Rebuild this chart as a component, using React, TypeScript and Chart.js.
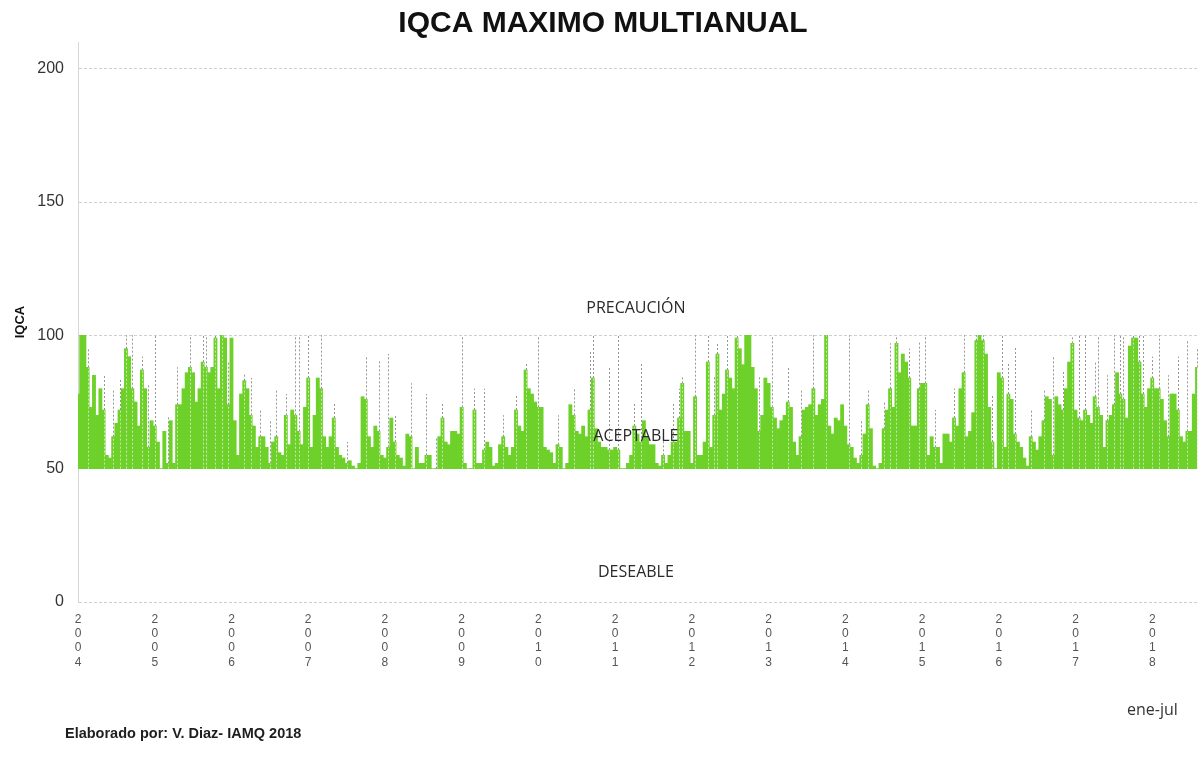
import { useEffect, useRef } from 'react';
import { Chart, registerables } from 'chart.js';

Chart.register(...registerables);

const TITLE = 'IQCA MAXIMO MULTIANUAL';
const Y_TITLE = 'IQCA';
const CREDIT = 'Elaborado por: V. Diaz- IAMQ 2018';
const PERIOD_NOTE = 'ene-jul';

const YEARS = ['2004', '2005', '2006', '2007', '2008', '2009', '2010', '2011', '2012', '2013', '2014', '2015', '2016', '2017', '2018'];
const Y_TICKS = [0, 50, 100, 150, 200];
const BASE = 50;

// half-monthly maximum IQCA (green bars start at 50)
const IQCA_2004 = [78, 100, 100, 88, 73, 85, 70, 80, 72, 55, 54, 62, 67, 72, 80, 95, 92, 80, 75, 66, 87, 80, 58, 68];
const IQCA_2005 = [66, 60, 50, 64, 52, 68, 52, 74, 74, 80, 86, 88, 86, 75, 80, 90, 88, 86, 88, 99, 80, 100, 99, 74];
const IQCA_2006 = [99, 68, 55, 78, 83, 80, 70, 66, 58, 62, 62, 58, 52, 60, 62, 56, 55, 70, 59, 72, 70, 64, 59, 73];
const IQCA_2007 = [84, 58, 70, 84, 80, 62, 58, 62, 69, 58, 55, 54, 52, 53, 51, 50, 52, 77, 76, 62, 58, 66, 64, 55];
const IQCA_2008 = [54, 58, 69, 60, 55, 54, 51, 63, 62, 50, 58, 52, 52, 55, 55, 50, 50, 62, 69, 60, 59, 64, 64, 63];
const IQCA_2009 = [73, 52, 50, 50, 72, 52, 52, 57, 60, 58, 51, 52, 59, 62, 58, 55, 58, 72, 66, 64, 87, 80, 78, 75];
const IQCA_2010 = [73, 73, 58, 57, 56, 52, 59, 58, 50, 52, 74, 70, 64, 63, 66, 62, 72, 84, 65, 60, 58, 58, 57, 57];
const IQCA_2011 = [58, 57, 50, 50, 52, 55, 66, 63, 60, 68, 62, 59, 59, 52, 51, 55, 52, 55, 60, 60, 69, 82, 64, 64];
const IQCA_2012 = [52, 77, 55, 55, 60, 90, 58, 70, 93, 72, 78, 87, 84, 80, 99, 95, 89, 100, 100, 88, 80, 64, 70, 84];
const IQCA_2013 = [82, 73, 69, 65, 68, 70, 75, 73, 60, 55, 62, 72, 73, 74, 80, 70, 74, 76, 100, 66, 63, 69, 68, 74];
const IQCA_2014 = [66, 59, 58, 54, 52, 55, 63, 74, 65, 51, 50, 52, 65, 72, 80, 73, 97, 86, 93, 90, 84, 66, 66, 80];
const IQCA_2015 = [82, 82, 55, 62, 58, 58, 52, 63, 63, 60, 69, 66, 80, 86, 62, 64, 71, 98, 100, 98, 93, 73, 60, 50];
const IQCA_2016 = [86, 84, 58, 78, 76, 63, 60, 58, 54, 51, 62, 60, 57, 62, 68, 77, 76, 55, 77, 74, 72, 80, 90, 97];
const IQCA_2017 = [72, 69, 68, 72, 70, 67, 77, 73, 70, 58, 68, 70, 74, 86, 78, 76, 69, 96, 99, 99, 90, 78, 73, 80];
const IQCA_2018 = [84, 80, 80, 76, 68, 62, 78, 78, 72, 62, 60, 64, 64, 78, 88];

const SERIES_BY_YEAR = [IQCA_2004, IQCA_2005, IQCA_2006, IQCA_2007, IQCA_2008, IQCA_2009, IQCA_2010, IQCA_2011, IQCA_2012, IQCA_2013, IQCA_2014, IQCA_2015, IQCA_2016, IQCA_2017, IQCA_2018];

// dashed drop lines reaching higher daily peaks (period index, peak value)
const SPIKE_INDEX = [3, 8, 11, 13, 15, 17, 20, 22, 24, 28, 31, 35, 39, 40, 43, 45, 47, 52, 54, 57, 60, 62, 65, 68, 69, 72, 76, 80, 84, 90, 94, 97, 99, 104, 109, 112, 114, 120, 124, 127, 133, 137, 140, 144, 150, 155, 160, 161, 166, 169, 174, 176, 183, 186, 188, 189, 193, 197, 199, 200, 203, 206, 213, 217, 222, 226, 230, 234, 241, 245, 247, 252, 254, 256, 260, 263, 265, 268, 274, 277, 281, 283, 286, 289, 291, 293, 298, 302, 305, 308, 311, 313, 315, 318, 319, 322, 324, 326, 327, 330, 332, 333, 336, 338, 341, 344, 347, 350];
const SPIKE_VALUE = [95, 85, 80, 84, 100, 100, 92, 82, 100, 70, 88, 100, 100, 100, 100, 100, 90, 86, 84, 72, 68, 80, 78, 100, 100, 100, 100, 75, 60, 92, 91, 93, 70, 82, 78, 62, 75, 100, 80, 80, 70, 78, 90, 100, 70, 80, 94, 100, 88, 100, 75, 90, 65, 75, 80, 85, 100, 100, 85, 97, 100, 100, 85, 100, 88, 80, 100, 100, 100, 68, 80, 75, 97, 100, 95, 98, 100, 72, 80, 100, 100, 100, 78, 100, 90, 96, 72, 80, 92, 87, 100, 100, 100, 90, 100, 85, 100, 100, 100, 100, 100, 100, 92, 100, 85, 92, 98, 95];

const ZONE_LABELS = ['PRECAUCIÓN', 'ACEPTABLE', 'DESEABLE'];
const ZONE_VALUES = [110, 62, 11];
const ZONE_CATEGORY_INDEX = 174.5;

const categories = YEARS.flatMap((y, k) => SERIES_BY_YEAR[k].map((_, j) => `${y}-${j + 1}`));
const values = SERIES_BY_YEAR.flat();
const PERIODS_PER_YEAR = IQCA_2004.length;

export default function App() {
  const ref = useRef<HTMLCanvasElement | null>(null);

  useEffect(() => {
    document.body.style.margin = '0';
    const canvas = ref.current;
    if (!canvas) return;

    const overlay = {
      id: 'overlay',
      afterDatasetsDraw(chart: any) {
        const { ctx, scales } = chart;
        const xs = scales.x;
        const ys = scales.y;
        ctx.save();
        ctx.lineWidth = 1;
        ctx.setLineDash([2, 2]);
        const yBase = ys.getPixelForValue(BASE);
        SPIKE_INDEX.forEach((idx, k) => {
          const x = Math.round(xs.getPixelForValue(idx)) + 0.5;
          const y1 = ys.getPixelForValue(values[idx]);
          const y2 = ys.getPixelForValue(SPIKE_VALUE[k]);
          ctx.strokeStyle = 'rgba(215,235,200,0.85)';
          ctx.beginPath();
          ctx.moveTo(x, yBase);
          ctx.lineTo(x, y1);
          ctx.stroke();
          ctx.strokeStyle = 'rgba(140,140,140,0.9)';
          ctx.beginPath();
          ctx.moveTo(x, y1);
          ctx.lineTo(x, y2);
          ctx.stroke();
        });
        ctx.setLineDash([]);
        ctx.fillStyle = '#2a2a2a';
        ctx.font = '16px "Open Sans", sans-serif';
        ctx.textAlign = 'center';
        ctx.textBaseline = 'middle';
        const zx = xs.getPixelForValue(ZONE_CATEGORY_INDEX);
        ZONE_LABELS.forEach((t, k) => {
          ctx.fillText(t, zx, ys.getPixelForValue(ZONE_VALUES[k]));
        });
        ctx.restore();
      },
      afterDraw(chart: any) {
        const { ctx } = chart;
        ctx.save();
        ctx.textBaseline = 'middle';
        ctx.textAlign = 'left';
        ctx.fillStyle = '#1e1e1e';
        ctx.font = 'bold 14.5px "Liberation Sans", Arial, sans-serif';
        ctx.fillText(CREDIT, 65, 734);
        ctx.fillStyle = '#333';
        ctx.font = '16px "Open Sans", sans-serif';
        ctx.fillText(PERIOD_NOTE, 1127, 710);
        ctx.restore();
      },
    };

    const chart = new Chart(canvas, {
      type: 'bar',
      data: {
        labels: categories,
        datasets: [
          {
            label: 'IQCA',
            data: values.map((v) => [BASE, v]) as any,
            backgroundColor: '#6dd12a',
            borderWidth: 0,
            categoryPercentage: 1,
            barPercentage: 1,
          },
        ],
      },
      options: {
        responsive: false,
        animation: false,
        layout: { padding: { left: 9, right: 4, top: 0, bottom: 97 } },
        plugins: {
          legend: { display: false },
          tooltip: { enabled: false },
          title: {
            display: true,
            text: TITLE,
            color: '#111',
            font: { family: '"Liberation Sans", Arial, sans-serif', size: 30, weight: 'bold' },
            padding: { top: 6, bottom: 0 },
          },
        },
        scales: {
          x: {
            type: 'category',
            offset: false,
            grid: { display: false, drawTicks: false },
            border: { display: false },
            ticks: {
              autoSkip: false,
              maxRotation: 0,
              minRotation: 0,
              padding: 10,
              color: '#555',
              font: { family: '"Liberation Sans", Arial, sans-serif', size: 12, lineHeight: 1.2 },
              callback: (_v: any, index: number) => {
                if (index % PERIODS_PER_YEAR !== 0) return '';
                const y = YEARS[index / PERIODS_PER_YEAR];
                return y ? y.split('') : '';
              },
            },
            afterFit: (s: any) => {
              s.height = 80;
              s.paddingLeft = 0;
              s.paddingRight = 0;
            },
          },
          y: {
            min: 0,
            max: 210,
            afterBuildTicks: (s: any) => {
              s.ticks = Y_TICKS.map((v) => ({ value: v }));
            },
            grid: { color: '#cfcfcf', drawTicks: false, lineWidth: 1 },
            border: { display: true, color: '#d6d6d6', dash: [3, 2] },
            ticks: {
              padding: 14,
              color: '#333',
              font: { family: '"Liberation Sans", Arial, sans-serif', size: 16 },
            },
            title: {
              display: true,
              text: Y_TITLE,
              color: '#111',
              font: { family: '"Liberation Sans", Arial, sans-serif', size: 13, weight: 'bold' },
            },
            afterFit: (s: any) => {
              s.width = 69;
            },
          },
        },
      },
      plugins: [overlay],
    });

    return () => chart.destroy();
  }, []);

  return (
    <div style={{ width: 1201, height: 779, background: '#fff' }}>
      <canvas ref={ref} width={1201} height={779} style={{ display: 'block' }} />
    </div>
  );
}
